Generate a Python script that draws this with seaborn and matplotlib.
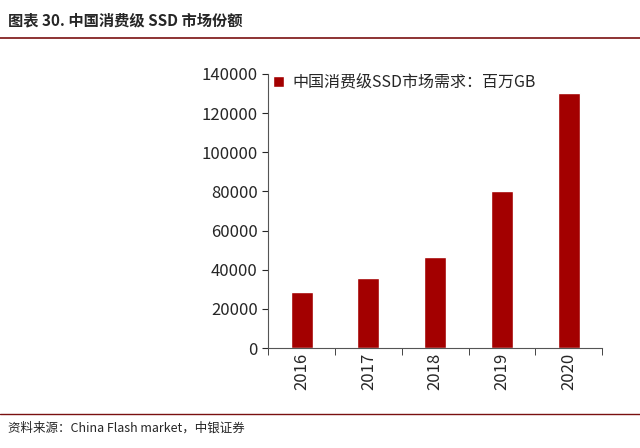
import matplotlib
matplotlib.use("Agg")
import matplotlib.pyplot as plt
import seaborn as sns
import pandas as pd
import numpy as np

years = ["2016", "2017", "2018", "2019", "2020"]
demand = [28500, 36000, 46500, 80000, 130500]
series_name = "中国消费级SSD市场需求：百万GB"

sns.set_style("white")
plt.rcParams['font.family'] = ['Noto Sans CJK SC', 'DejaVu Sans']

df = pd.DataFrame({"year": years, "demand": demand})

fig = plt.figure(figsize=(6.4, 4.48), dpi=100)
ax = fig.add_axes([0.419, 0.223, 0.522, 0.612])
sns.barplot(data=df, x="year", y="demand", color="#A30000", width=0.33,
            saturation=1, ax=ax, label=series_name)

ax.set_ylim(0, 140000)
ax.set_yticks(np.arange(0, 140001, 20000))
ax.set_xlim(-0.27, len(years) - 0.5)
ax.set_xlabel("")
ax.set_ylabel("")
ax.tick_params(axis="y", labelsize=12, length=4, left=True)
ax.tick_params(axis="x", labelsize=12, rotation=90, length=0)
ax.set_xticks(np.arange(len(years) + 1) - 0.5, minor=True)
ax.tick_params(axis="x", which="minor", length=5, bottom=True)
for s in ["top", "right"]:
    ax.spines[s].set_visible(False)
for s in ["left", "bottom"]:
    ax.spines[s].set_color("#555555")
leg = ax.legend(loc="upper left", bbox_to_anchor=(-0.01, 1.03), frameon=False,
                fontsize=11.5, handlelength=0.7, handleheight=0.7,
                handletextpad=0.5, borderaxespad=0.1)

fig.text(0.012, 0.955, "图表 30. 中国消费级 SSD 市场份额", fontsize=11,
         fontweight="bold", va="center")
fig.add_artist(plt.Line2D([0.0, 1.0], [0.915, 0.915], color="#7A1010", lw=1.2))
fig.add_artist(plt.Line2D([0.0, 1.0], [0.075, 0.075], color="#7A1010", lw=1.0))
fig.text(0.012, 0.045, "资料来源：China Flash market，中银证券", fontsize=9,
         style="italic", va="center")

fig.savefig("out.png", dpi=100)
